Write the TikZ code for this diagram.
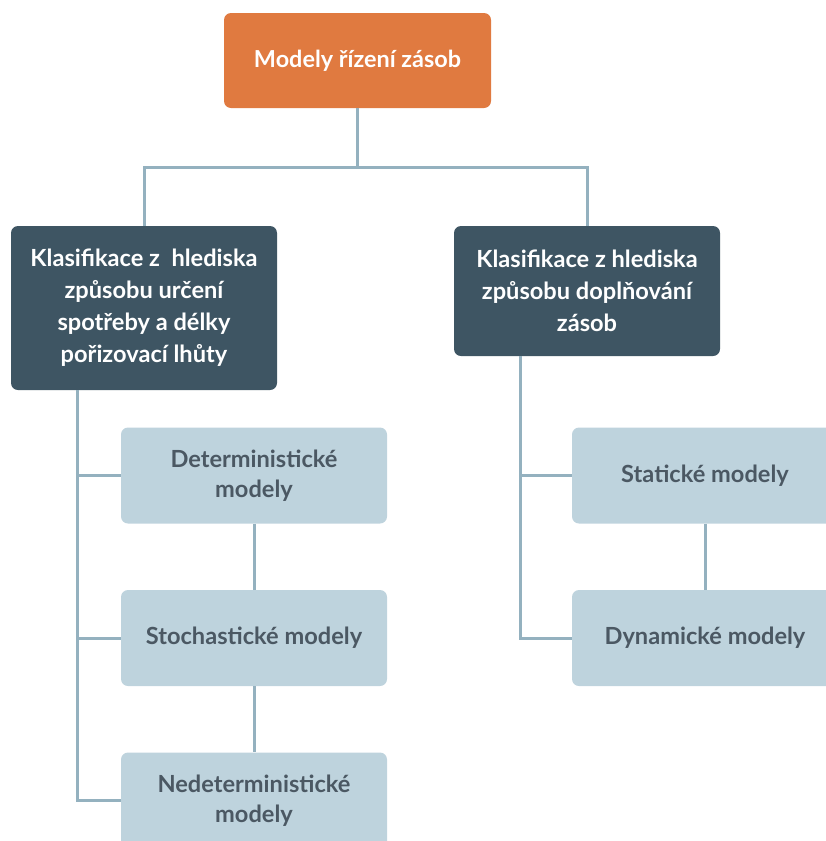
\documentclass[tikz,border=0pt]{standalone}
\usepackage{fontspec}
\usetikzlibrary{calc}
\setmainfont{Lato}
\definecolor{topfill}{HTML}{E07A40}
\definecolor{darkfill}{HTML}{3E5563}
\definecolor{lightfill}{HTML}{BED3DD}
\definecolor{linkcol}{HTML}{94B1BF}
\definecolor{lighttext}{HTML}{4B5863}
\begin{document}
\begin{tikzpicture}[x=1pt,y=-1pt,
  box/.style={rounded corners=7pt, inner sep=0pt, align=center, font=\bfseries\fontsize{23.6}{32}\selectfont},
  topbox/.style={box, fill=topfill, text=white, minimum width=267pt, minimum height=95pt, font=\bfseries\fontsize{23.4}{32}\selectfont},
  darkbox/.style={box, fill=darkfill, text=white, minimum width=266pt},
  lightbox/.style={box, fill=lightfill, text=lighttext, minimum width=266pt, minimum height=96pt, font=\bfseries\fontsize{23.6}{30}\selectfont},
  link/.style={draw=linkcol, line width=3pt}]
\useasboundingbox (0,0) rectangle (826,841);
\clip (0,0) rectangle (826,841);

% top of the hierarchy
\node[topbox] (top) at (357.5,60.5) {Modely řízení zásob};

% the two classification branches
\node[darkbox, minimum height=164pt] (l1) at (144,308) {Klasifikace z\ \ hlediska\\způsobu určení\\spotřeby a délky\\pořizovací lhůty};
\node[darkbox, minimum height=130pt] (r1) at (587,291) {Klasifikace z hlediska\\způsobu doplňování\\zásob};

% left branch models
\node[lightbox] (det) at (254,475.5) {Deterministické\\modely};
\node[lightbox] (sto) at (254,638) {Stochastické modely};
\node[lightbox] (ned) at (254,800.5) {Nedeterministické\\modely};

% right branch models
\node[lightbox] (sta) at (705,475.5) {Statické modely};
\node[lightbox] (dyn) at (705,638) {Dynamické modely};

% connectors from the root
\coordinate (hub) at ($(top.south)!0.5!(l1.north)$);
\draw[link] (top.south) -- (top.south |- hub);
\draw[link] (l1.north) |- (top.south |- hub) -| (r1.north);

% left trunk and branches
\coordinate (ltr) at ([xshift=-67pt]l1.south);
\draw[link] (ltr) |- (ned.west);
\draw[link] (ltr |- det.west) -- (det.west);
\draw[link] (ltr |- sto.west) -- (sto.west);
\draw[link] (det.south) -- (sto.north);
\draw[link] (sto.south) -- (ned.north);

% right trunk and branches
\coordinate (rtr) at ([xshift=-67pt]r1.south);
\draw[link] (rtr) |- (dyn.west);
\draw[link] (rtr |- sta.west) -- (sta.west);
\draw[link] (sta.south) -- (dyn.north);
\end{tikzpicture}
\end{document}
